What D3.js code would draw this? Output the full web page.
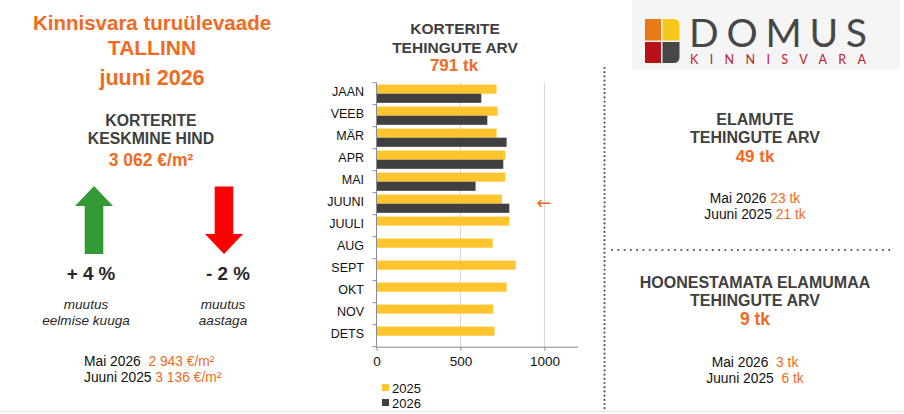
<!DOCTYPE html>
<html>
<head>
<meta charset="utf-8">
<script src="https://cdn.jsdelivr.net/npm/d3@7"></script>
<style>
  html, body { margin: 0; padding: 0; background: #fff; }
  svg { display: block; font-family: "Liberation Sans", Arial, sans-serif; }
  text { white-space: pre; }
</style>
</head>
<body>
<div id="chart"></div>
<script>
/* Tallinn market overview — apartment deals by month (2025 vs 2026) */
var months = ["JAAN", "VEEB", "MÄR", "APR", "MAI", "JUUNI", "JUULI", "AUG", "SEPT", "OKT", "NOV", "DETS"];
var deals2025 = [715, 721, 715, 767, 767, 747, 791, 692, 829, 775, 695, 703];
var deals2026 = [624, 660, 775, 755, 590, 791];
var seriesNames = ["2025", "2026"];
var xTicks = [0, 500, 1000];

var ORANGE = "#F26A21";
var DARK = "#404040";
var colors = { "2025": "#FEC52E", "2026": "#404040" };

(function () {
  "use strict";

  var W = 904, H = 414;
  var svg = d3.select("#chart").append("svg").attr("width", W).attr("height", H);

  // faint sheet border at bottom
  svg.append("line").attr("x1", 0).attr("x2", W).attr("y1", 411.5).attr("y2", 411.5)
    .attr("stroke", "#e2e2e2").attr("stroke-width", 1);

  function label(x, y, str, opt) {
    opt = opt || {};
    return svg.append("text").attr("x", x).attr("y", y)
      .attr("text-anchor", opt.anchor || "middle")
      .attr("font-size", opt.size || 15)
      .attr("font-weight", opt.bold ? "bold" : null)
      .attr("font-style", opt.italic ? "italic" : null)
      .attr("fill", opt.color || DARK)
      .text(str);
  }

  // two-colour line: black label + orange value
  function pairLine(x, y, a, b, anchor) {
    var t = svg.append("text").attr("x", x).attr("y", y)
      .attr("text-anchor", anchor || "middle").attr("font-size", 13.8);
    t.append("tspan").attr("fill", "#111").text(a);
    t.append("tspan").attr("fill", ORANGE).text(b);
  }

  /* ---- Left panel ---- */
  label(152, 30, "Kinnisvara turuülevaade", { size: 20.5, bold: true, color: ORANGE });
  label(152, 55, "TALLINN", { size: 21, bold: true, color: ORANGE });
  label(152, 85, "juuni 2026", { size: 21.5, bold: true, color: ORANGE });

  label(151, 126, "KORTERITE", { size: 15.8, bold: true });
  label(151, 144, "KESKMINE HIND", { size: 15.8, bold: true });
  label(151, 166, "3 062 €/m²", { size: 17.5, bold: true, color: ORANGE });

  // arrows
  function arrow(cx, top, bottom, up, color) {
    var hw = 19, sw = 9.3, hh = 20;
    var p = d3.path();
    if (up) {
      p.moveTo(cx, top);
      p.lineTo(cx + hw, top + hh);
      p.lineTo(cx + sw, top + hh);
      p.lineTo(cx + sw, bottom);
      p.lineTo(cx - sw, bottom);
      p.lineTo(cx - sw, top + hh);
      p.lineTo(cx - hw, top + hh);
    } else {
      p.moveTo(cx, bottom);
      p.lineTo(cx + hw, bottom - hh);
      p.lineTo(cx + sw, bottom - hh);
      p.lineTo(cx + sw, top);
      p.lineTo(cx - sw, top);
      p.lineTo(cx - sw, bottom - hh);
      p.lineTo(cx - hw, bottom - hh);
    }
    p.closePath();
    svg.append("path").attr("d", p.toString()).attr("fill", color);
  }
  arrow(94, 186, 254, true, "#359A35");
  arrow(224, 186.5, 254, false, "#FF0000");

  label(91, 280, "+ 4 %", { size: 18.8, bold: true, color: "#262626" });
  label(228, 280, "- 2 %", { size: 18.8, bold: true, color: "#262626" });
  label(86, 309, "muutus", { size: 13.6, italic: true, color: "#262626" });
  label(86, 325, "eelmise kuuga", { size: 13.6, italic: true, color: "#262626" });
  label(223, 309, "muutus", { size: 13.6, italic: true, color: "#262626" });
  label(223, 325, "aastaga", { size: 13.6, italic: true, color: "#262626" });

  pairLine(84, 366, "Mai 2026  ", "2 943 €/m²", "start");
  pairLine(84, 382, "Juuni 2025 ", "3 136 €/m²", "start");

  /* ---- Middle: bar chart ---- */
  label(455, 34, "KORTERITE", { size: 15.5, bold: true });
  label(455, 53, "TEHINGUTE ARV", { size: 15.5, bold: true });
  label(454, 71, "791 tk", { size: 17, bold: true, color: ORANGE });

  var x = d3.scaleLinear().domain([0, 1200]).range([376.5, 578]);
  var y = d3.scaleBand().domain(months).range([82.7, 346.7]).paddingInner(0.17).paddingOuter(0.085);
  var ys = d3.scaleBand().domain(seriesNames).range([0, y.bandwidth()]);

  var plotTop = y.range()[0], plotBottom = y.range()[1];

  // grid
  svg.append("g").selectAll("line").data(xTicks.filter(function (d) { return d > 0; })).join("line")
    .attr("x1", function (d) { return x(d); }).attr("x2", function (d) { return x(d); })
    .attr("y1", plotTop).attr("y2", plotBottom)
    .attr("stroke", "#d6d6d6").attr("stroke-width", 1);

  var rows = months.map(function (m, i) {
    return { month: m, values: [
      { key: "2025", v: deals2025[i] },
      { key: "2026", v: deals2026[i] }
    ].filter(function (d) { return d.v != null; }) };
  });

  var grp = svg.append("g").selectAll("g").data(rows).join("g")
    .attr("transform", function (d) { return "translate(0," + y(d.month) + ")"; });
  grp.selectAll("rect").data(function (d) { return d.values; }).join("rect")
    .attr("x", x(0))
    .attr("y", function (d) { return ys(d.key); })
    .attr("width", function (d) { return x(d.v) - x(0); })
    .attr("height", ys.bandwidth())
    .attr("fill", function (d) { return colors[d.key]; });

  // bottom axis
  var xAxis = svg.append("g").attr("transform", "translate(0," + plotBottom + ")")
    .call(d3.axisBottom(x).tickValues(xTicks).tickFormat(d3.format("d")).tickSize(4).tickPadding(6));
  xAxis.select(".domain").attr("stroke", "#8c8c8c").attr("d", "M" + x(0) + ",0.5H" + x(1200));
  xAxis.selectAll(".tick line").attr("stroke", "#8c8c8c");
  xAxis.selectAll(".tick text").attr("font-size", 13.5).attr("fill", "#111")
    .attr("font-family", "Liberation Sans, Arial, sans-serif");

  // left axis with ticks between categories
  var yAxisG = svg.append("g");
  yAxisG.append("line").attr("x1", x(0)).attr("x2", x(0)).attr("y1", plotTop).attr("y2", plotBottom)
    .attr("stroke", "#8c8c8c");
  var step = y.step();
  var bounds = d3.range(months.length + 1).map(function (i) { return plotTop + i * step; });
  yAxisG.selectAll(".tk").data(bounds).join("line").attr("class", "tk")
    .attr("x1", x(0) - 4).attr("x2", x(0))
    .attr("y1", function (d) { return d; }).attr("y2", function (d) { return d; })
    .attr("stroke", "#8c8c8c");
  yAxisG.selectAll("text").data(months).join("text")
    .attr("x", 364).attr("y", function (d) { return y(d) + y.bandwidth() / 2 + 2.5; })
    .attr("text-anchor", "end").attr("font-size", 12.5).attr("fill", "#111")
    .text(function (d) { return d; });

  // pointer to current month
  svg.append("text").attr("x", 544).attr("y", y("JUUNI") + y.bandwidth() / 2 + 5)
    .attr("text-anchor", "middle").attr("font-size", 18).attr("fill", ORANGE)
    .attr("font-family", "DejaVu Sans, sans-serif").text("←");

  // legend
  var leg = svg.append("g").selectAll("g").data(seriesNames).join("g")
    .attr("transform", function (d, i) { return "translate(382," + (384 + i * 15) + ")"; });
  leg.append("rect").attr("width", 7).attr("height", 7).attr("fill", function (d) { return colors[d]; });
  leg.append("text").attr("x", 10).attr("y", 8.5).attr("font-size", 13).attr("fill", "#111")
    .text(function (d) { return d; });

  /* ---- Right panel ---- */
  svg.append("line").attr("x1", 604.5).attr("x2", 604.5).attr("y1", 68).attr("y2", 412)
    .attr("stroke", "#555").attr("stroke-width", 2.2).attr("stroke-linecap", "round")
    .attr("stroke-dasharray", "0 4.2");
  svg.append("line").attr("x1", 612).attr("x2", 893).attr("y1", 250).attr("y2", 250)
    .attr("stroke", "#555").attr("stroke-width", 2.2).attr("stroke-linecap", "round")
    .attr("stroke-dasharray", "0 6.3");

  // logo
  svg.append("rect").attr("x", 632).attr("y", 0).attr("width", 268).attr("height", 70).attr("fill", "#f5f5f5");
  var lg = svg.append("g");
  lg.append("rect").attr("x", 645).attr("y", 19).attr("width", 16).attr("height", 21.5).attr("fill", "#E9781A");
  lg.append("path").attr("d", "M662.5,19H674a5.5,5.5 0 0 1 5.5,5.5V40.5H662.5Z").attr("fill", "#F7C81C");
  lg.append("rect").attr("x", 645).attr("y", 42).attr("width", 16).attr("height", 21).attr("fill", "#B8111A");
  lg.append("path").attr("d", "M662.5,42H679.5V57.5a5.5,5.5 0 0 1 -5.5,5.5H662.5Z").attr("fill", "#474747");
  lg.append("text").attr("x", 689).attr("y", 47).attr("font-size", 39).attr("font-weight", 400)
    .attr("font-family", "Lato, 'Open Sans', sans-serif").attr("fill", "#474747")
    .attr("textLength", 178).attr("lengthAdjust", "spacing").text("DOMUS");
  lg.append("text").attr("x", 690).attr("y", 63.5).attr("font-size", 12.5)
    .attr("font-family", "Lato, 'Open Sans', sans-serif").attr("fill", "#C0202A")
    .attr("textLength", 176).attr("lengthAdjust", "spacing").text("KINNISVARA");

  label(755, 124.5, "ELAMUTE", { size: 16, bold: true });
  label(755, 143, "TEHINGUTE ARV", { size: 16, bold: true });
  label(755, 162, "49 tk", { size: 17, bold: true, color: ORANGE });
  pairLine(755, 203, "Mai 2026 ", "23 tk");
  pairLine(755, 218.5, "Juuni 2025 ", "21 tk");

  label(755, 287.5, "HOONESTAMATA ELAMUMAA", { size: 16, bold: true });
  label(755, 306, "TEHINGUTE ARV", { size: 16, bold: true });
  label(755, 324.5, "9 tk", { size: 17.5, bold: true, color: ORANGE });
  pairLine(755, 367, "Mai 2026  ", "3 tk");
  pairLine(755, 382.5, "Juuni 2025  ", "6 tk");
})();
</script>
</body>
</html>
